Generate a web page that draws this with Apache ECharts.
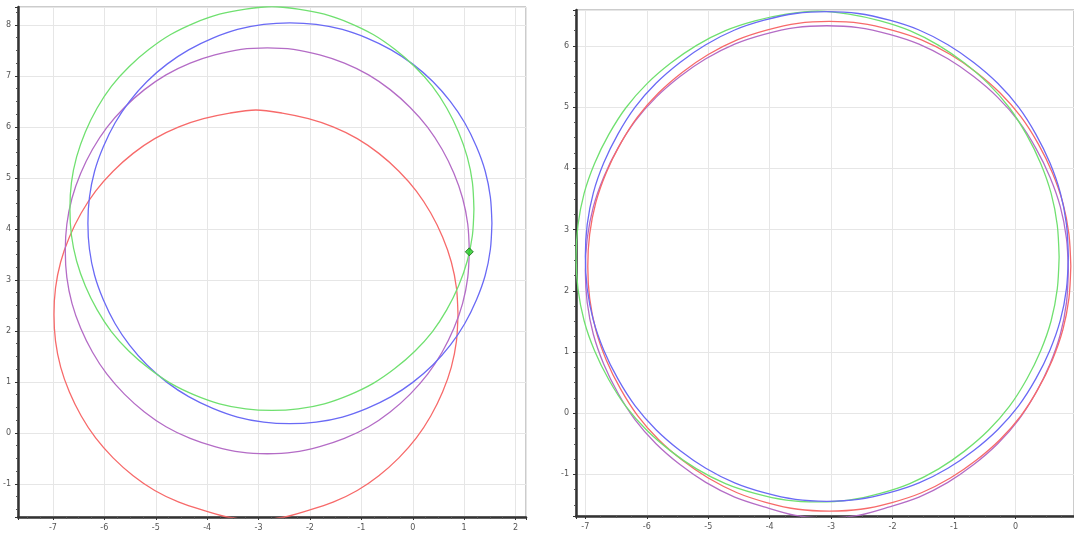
<!DOCTYPE html>
<html><head><meta charset="utf-8">
<script src="https://cdn.jsdelivr.net/npm/echarts@6/dist/echarts.min.js"></script>
<style>html,body{margin:0;padding:0;background:#fff}#c{width:1074px;height:533px}</style>
</head><body><div id="c"></div>
<script>
// Left panel curves: [x, y] points
const leftGreen = [[1.19,4.39],[1.16,4.91],[1.06,5.41],[0.89,5.90],[0.66,6.37],[0.38,6.80],[0.04,7.18],[-0.35,7.52],[-0.77,7.81],[-1.24,8.04],[-1.72,8.21],[-2.23,8.31],[-2.74,8.36],
  [-3.25,8.31],[-3.76,8.21],[-4.24,8.04],[-4.71,7.81],[-5.13,7.52],[-5.52,7.18],[-5.86,6.80],[-6.14,6.37],[-6.37,5.90],[-6.54,5.41],[-6.64,4.91],[-6.67,4.39],
  [-6.64,3.87],[-6.54,3.37],[-6.37,2.88],[-6.14,2.41],[-5.86,1.98],[-5.52,1.60],[-5.13,1.26],[-4.71,0.97],[-4.24,0.74],[-3.76,0.57],[-3.25,0.47],[-2.74,0.44],
  [-2.23,0.47],[-1.72,0.57],[-1.24,0.74],[-0.77,0.97],[-0.35,1.26],[0.04,1.60],[0.38,1.98],[0.66,2.41],[0.89,2.88],[1.06,3.37],[1.16,3.87],[1.19,4.39]];
const leftBlue = [[1.54,4.11],[1.51,4.62],[1.41,5.13],[1.24,5.61],[1.01,6.08],[0.73,6.50],[0.39,6.89],[0.00,7.23],[-0.42,7.51],[-0.89,7.74],[-1.37,7.91],[-1.88,8.01],[-2.39,8.04],
  [-2.90,8.01],[-3.41,7.91],[-3.89,7.74],[-4.36,7.51],[-4.78,7.23],[-5.17,6.89],[-5.51,6.50],[-5.79,6.08],[-6.02,5.61],[-6.19,5.13],[-6.29,4.62],[-6.32,4.11],
  [-6.29,3.60],[-6.19,3.09],[-6.02,2.61],[-5.79,2.14],[-5.51,1.72],[-5.17,1.33],[-4.78,0.99],[-4.36,0.71],[-3.89,0.48],[-3.41,0.31],[-2.90,0.21],[-2.39,0.18],
  [-1.88,0.21],[-1.37,0.31],[-0.89,0.48],[-0.42,0.71],[0.00,0.99],[0.39,1.33],[0.73,1.72],[1.01,2.14],[1.24,2.61],[1.41,3.09],[1.51,3.60],[1.54,4.11]];
const leftPurple = [[1.10,3.57],[1.07,4.09],[0.97,4.60],[0.80,5.09],[0.57,5.56],[0.29,5.99],[-0.05,6.38],[-0.44,6.73],[-0.86,7.02],[-1.33,7.25],[-1.81,7.41],[-2.32,7.52],[-2.83,7.55],
  [-3.34,7.52],[-3.85,7.41],[-4.33,7.25],[-4.80,7.02],[-5.22,6.73],[-5.61,6.38],[-5.95,5.99],[-6.23,5.56],[-6.46,5.09],[-6.63,4.60],[-6.73,4.09],[-6.76,3.57],
  [-6.73,3.05],[-6.63,2.54],[-6.46,2.05],[-6.23,1.58],[-5.95,1.15],[-5.61,0.76],[-5.22,0.41],[-4.80,0.12],[-4.33,-0.11],[-3.85,-0.27],[-3.34,-0.38],[-2.83,-0.41],
  [-2.32,-0.38],[-1.81,-0.27],[-1.33,-0.11],[-0.86,0.12],[-0.44,0.41],[-0.05,0.76],[0.29,1.15],[0.57,1.58],[0.80,2.05],[0.97,2.54],[1.07,3.05],[1.10,3.57]];
const leftRed = [[0.88,2.32],[0.85,2.84],[0.75,3.35],[0.58,3.84],[0.35,4.31],[0.07,4.74],[-0.27,5.13],[-0.66,5.48],[-1.08,5.77],[-1.55,6.00],[-2.03,6.16],[-2.54,6.27],[-3.05,6.33],
  [-3.56,6.27],[-4.07,6.16],[-4.55,6.00],[-5.02,5.77],[-5.44,5.48],[-5.83,5.13],[-6.17,4.74],[-6.45,4.31],[-6.68,3.84],[-6.85,3.35],[-6.95,2.84],[-6.98,2.32],
  [-6.95,1.80],[-6.85,1.29],[-6.68,0.80],[-6.45,0.33],[-6.17,-0.10],[-5.83,-0.49],[-5.44,-0.84],[-5.02,-1.13],[-4.55,-1.36],[-4.07,-1.52],[-3.56,-1.66],[-3.05,-1.70],
  [-2.54,-1.66],[-2.03,-1.52],[-1.55,-1.36],[-1.08,-1.13],[-0.66,-0.84],[-0.27,-0.49],[0.07,-0.10],[0.35,0.33],[0.58,0.80],[0.75,1.29],[0.85,1.80],[0.88,2.32]];
const leftMarker = [[1.10,3.55]];

// Right panel curves
const rightGreen = [[0.71,2.55],[0.68,3.07],[0.58,3.59],[0.41,4.08],[0.18,4.55],[-0.10,4.99],[-0.44,5.38],[-0.83,5.72],[-1.25,6.01],[-1.72,6.25],[-2.20,6.41],[-2.71,6.52],[-3.22,6.57],
  [-3.73,6.52],[-4.24,6.41],[-4.72,6.25],[-5.19,6.01],[-5.61,5.72],[-6.00,5.38],[-6.34,4.99],[-6.62,4.55],[-6.85,4.08],[-7.02,3.59],[-7.12,3.07],[-7.15,2.55],
  [-7.12,2.03],[-7.02,1.51],[-6.85,1.02],[-6.62,0.55],[-6.34,0.11],[-6.00,-0.28],[-5.61,-0.62],[-5.19,-0.91],[-4.72,-1.15],[-4.24,-1.31],[-3.73,-1.42],[-3.22,-1.45],
  [-2.71,-1.42],[-2.20,-1.31],[-1.72,-1.15],[-1.25,-0.91],[-0.83,-0.62],[-0.44,-0.28],[-0.10,0.11],[0.18,0.55],[0.41,1.02],[0.58,1.51],[0.68,2.03],[0.71,2.55]];
const rightBlue = [[0.86,2.56],[0.83,3.08],[0.73,3.60],[0.56,4.09],[0.33,4.56],[0.05,5.00],[-0.29,5.39],[-0.68,5.73],[-1.10,6.02],[-1.57,6.26],[-2.05,6.42],[-2.56,6.53],[-3.07,6.56],
  [-3.58,6.53],[-4.09,6.42],[-4.57,6.26],[-5.04,6.02],[-5.46,5.73],[-5.85,5.39],[-6.19,5.00],[-6.47,4.56],[-6.70,4.09],[-6.87,3.60],[-6.97,3.08],[-7.00,2.56],
  [-6.97,2.04],[-6.87,1.52],[-6.70,1.03],[-6.47,0.56],[-6.19,0.12],[-5.85,-0.27],[-5.46,-0.61],[-5.04,-0.90],[-4.57,-1.14],[-4.09,-1.30],[-3.58,-1.41],[-3.07,-1.44],
  [-2.56,-1.41],[-2.05,-1.30],[-1.57,-1.14],[-1.10,-0.90],[-0.68,-0.61],[-0.29,-0.27],[0.05,0.12],[0.33,0.56],[0.56,1.03],[0.73,1.52],[0.83,2.04],[0.86,2.56]];
const rightRed = [[0.90,2.40],[0.87,2.92],[0.77,3.44],[0.60,3.93],[0.37,4.40],[0.09,4.84],[-0.25,5.23],[-0.64,5.57],[-1.06,5.86],[-1.53,6.10],[-2.01,6.26],[-2.52,6.37],[-3.03,6.40],
  [-3.54,6.37],[-4.05,6.26],[-4.53,6.10],[-5.00,5.86],[-5.42,5.57],[-5.81,5.23],[-6.15,4.84],[-6.43,4.40],[-6.66,3.93],[-6.83,3.44],[-6.93,2.92],[-6.96,2.40],
  [-6.93,1.88],[-6.83,1.36],[-6.66,0.87],[-6.43,0.40],[-6.15,-0.04],[-5.81,-0.43],[-5.42,-0.77],[-5.00,-1.06],[-4.53,-1.30],[-4.05,-1.46],[-3.54,-1.57],[-3.03,-1.60],
  [-2.52,-1.57],[-2.01,-1.46],[-1.53,-1.30],[-1.06,-1.06],[-0.64,-0.77],[-0.25,-0.43],[0.09,-0.04],[0.37,0.40],[0.60,0.87],[0.77,1.36],[0.87,1.88],[0.90,2.40]];
const rightPurple = [[0.86,2.33],[0.83,2.85],[0.73,3.37],[0.56,3.86],[0.33,4.33],[0.05,4.77],[-0.29,5.16],[-0.68,5.50],[-1.10,5.79],[-1.57,6.03],[-2.05,6.19],[-2.56,6.30],[-3.07,6.33],
  [-3.58,6.30],[-4.09,6.19],[-4.57,6.03],[-5.04,5.79],[-5.46,5.50],[-5.85,5.16],[-6.19,4.77],[-6.47,4.33],[-6.70,3.86],[-6.87,3.37],[-6.97,2.85],[-7.00,2.33],
  [-6.97,1.81],[-6.87,1.29],[-6.70,0.80],[-6.47,0.33],[-6.19,-0.11],[-5.85,-0.50],[-5.46,-0.84],[-5.04,-1.13],[-4.57,-1.37],[-4.09,-1.53],[-3.58,-1.67],[-3.07,-1.71],
  [-2.56,-1.67],[-2.05,-1.53],[-1.57,-1.37],[-1.10,-1.13],[-0.68,-0.84],[-0.29,-0.50],[0.05,-0.11],[0.33,0.33],[0.56,0.80],[0.73,1.29],[0.83,1.81],[0.86,2.33]];

const C_GREEN = '#70e070', C_BLUE = '#6a6af5', C_PURPLE = '#b46cc6', C_RED = '#f76a6a';

function axisCommon(extra) {
  return Object.assign({
    type: 'value', splitNumber: 10,
    axisLine: { show: true, onZero: false, lineStyle: { color: '#333', width: 2.5 } },
    axisTick: { show: true, inside: false, length: 3, lineStyle: { color: '#333' } },
    minorTick: { show: true, splitNumber: 4, length: 2, lineStyle: { color: '#555' } },
    splitLine: { show: true, lineStyle: { color: '#e6e6e6', width: 1 } },
    axisLabel: { fontSize: 8, color: '#555', fontFamily: 'DejaVu Sans', showMinLabel: false, showMaxLabel: false, margin: 7 }
  }, extra);
}
function curve(name, data, color, xi) {
  return { name, type: 'line', data, xAxisIndex: xi, yAxisIndex: xi, smooth: 0.3, showSymbol: false, symbol: 'none',
    clip: true, lineStyle: { color, width: 1.3 }, itemStyle: { color }, silent: true };
}
const chart = echarts.init(document.getElementById('c'), null, { renderer: 'canvas' });
chart.setOption({
  animation: false,
  grid: [
    { left: 18, top: 7, width: 508, height: 510, show: true, borderColor: '#999', borderWidth: 1, backgroundColor: 'transparent' },
    { left: 576, top: 10, width: 500, height: 506, show: true, borderColor: '#999', borderWidth: 1, backgroundColor: 'transparent' }
  ],
  xAxis: [
    axisCommon({ gridIndex: 0, min: -7.68, max: 2.203, position: 'bottom' }),
    axisCommon({ gridIndex: 1, min: -7.152, max: 0.952, splitNumber: 8, position: 'bottom' })
  ],
  yAxis: [
    axisCommon({ gridIndex: 0, min: -1.65, max: 8.35, position: 'left' }),
    axisCommon({ gridIndex: 1, min: -1.68, max: 6.587, splitNumber: 8, position: 'left' })
  ],
  series: [
    curve('Red', leftRed, C_RED, 0),
    curve('Purple', leftPurple, C_PURPLE, 0),
    curve('Blue', leftBlue, C_BLUE, 0),
    curve('Green', leftGreen, C_GREEN, 0),
    { type: 'scatter', data: leftMarker, xAxisIndex: 0, yAxisIndex: 0, symbol: 'diamond', symbolSize: 8,
      itemStyle: { color: '#22cc22', borderColor: '#116611', borderWidth: 1 }, z: 5 },
    curve('Purple', rightPurple, C_PURPLE, 1),
    curve('Red', rightRed, C_RED, 1),
    curve('Green', rightGreen, C_GREEN, 1),
    curve('Blue', rightBlue, C_BLUE, 1)
  ]
});
</script>
</body></html>
